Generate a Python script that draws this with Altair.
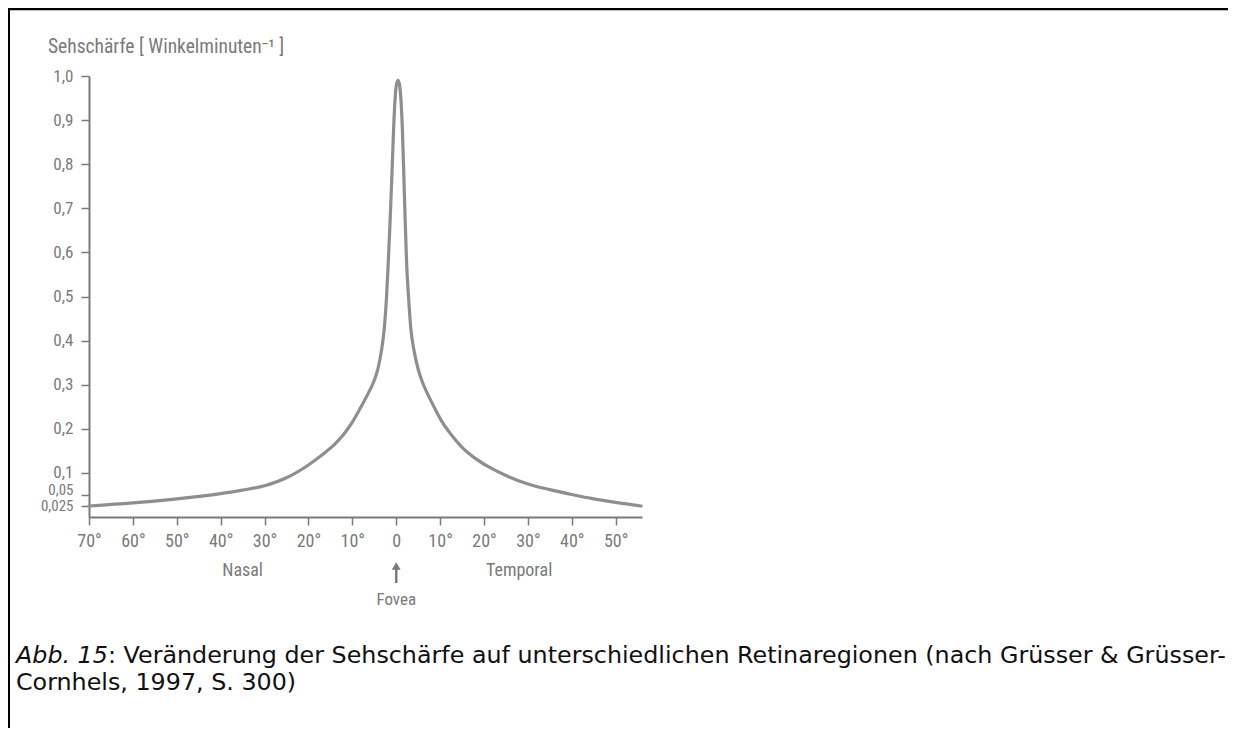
import altair as alt
import pandas as pd

# ---- data ----
angle = [-70, -60, -50, -40, -35, -30, -25, -20, -17, -14, -12, -10, -8, -6.5,
         -5.2, -4.2, -3.4, -2.7, -2.2, -1.8, -1.4, -1.0, -0.6, -0.25, 0.05, 0.4,
         0.75, 1.05, 1.4, 1.75, 2.05, 2.35, 2.8, 3.3, 4.1, 5.0, 6.0, 7.2, 8.6,
         10.5, 12.5, 15, 18, 21, 25, 30, 35, 40, 45, 50, 55.8]
acuity = [0.025, 0.032, 0.041, 0.053, 0.061, 0.071, 0.089, 0.118, 0.14, 0.165,
          0.187, 0.215, 0.25, 0.278, 0.305, 0.335, 0.375, 0.43, 0.5, 0.58, 0.67,
          0.77, 0.88, 0.95, 0.98, 0.99, 0.98, 0.95, 0.88, 0.77, 0.67, 0.58, 0.5,
          0.43, 0.375, 0.335, 0.305, 0.278, 0.25, 0.215, 0.187, 0.158, 0.133,
          0.114, 0.094, 0.075, 0.062, 0.051, 0.041, 0.033, 0.025]

y_ticks = [0.025, 0.05, 0.1, 0.2, 0.3, 0.4, 0.5, 0.6, 0.7, 0.8, 0.9, 1.0]
y_tick_labels = ["0,025", "0,05", "0,1", "0,2", "0,3", "0,4", "0,5", "0,6",
                 "0,7", "0,8", "0,9", "1,0"]
x_ticks = [-70, -60, -50, -40, -30, -20, -10, 0, 10, 20, 30, 40, 50]
x_tick_labels = ["70°", "60°", "50°", "40°", "30°", "20°", "10°", "0",
                 "10°", "20°", "30°", "40°", "50°"]
x_domain = [-70, 56]
y_domain = [0, 1]

y_title = "Sehschärfe [ Winkelminuten⁻¹ ]"
region_names = ["Nasal", "Temporal"]
region_angles = [-35, 28]
fovea_name = ["Fovea"]
fovea_angle = [0]
caption_italic = "Abb. 15"
caption_line1 = ": Veränderung der Sehschärfe auf unterschiedlichen Retinaregionen (nach Grüsser & Grüsser-"
caption_line2 = "Cornhels, 1997, S. 300)"

# ---- layout ----
W, H = 553, 441
PL, PT = 81, 68
SVG_W, SVG_H = 1225, 720
GRAY = "#7a7a7a"
CURVE = "#8e8e8e"
AXFONT = "Liberation Sans Narrow, Roboto Condensed, DejaVu Sans Condensed, sans-serif"
CAPFONT = "DejaVu Sans"
CAPSIZE = 23.8

def expr_map(values, labels):
    v = "[" + ",".join(repr(x) for x in values) + "]"
    l = "[" + ",".join("'" + s + "'" for s in labels) + "]"
    return f"{l}[indexof({v}, datum.value)]"

curve_df = pd.DataFrame({"angle": angle, "acuity": acuity})

xscale = alt.Scale(domain=x_domain, nice=False, zero=False)
yscale = alt.Scale(domain=y_domain, nice=False)

xaxis = alt.Axis(values=x_ticks, labelExpr=expr_map(x_ticks, x_tick_labels),
                 title=None, grid=False, domainColor=GRAY, domainWidth=2,
                 tickColor=GRAY, tickWidth=1.5, tickSize=8, labelPadding=7,
                 labelColor=GRAY, labelFont=AXFONT, labelFontSize=18,
                 labelOverlap=False, labelFlush=False)
yaxis = alt.Axis(values=y_ticks, labelExpr=expr_map(y_ticks, y_tick_labels),
                 title=None, grid=False, domainColor=GRAY, domainWidth=2,
                 tickColor=GRAY, tickWidth=1.5, tickSize=8, labelPadding=8,
                 labelColor=GRAY, labelFont=AXFONT,
                 labelFontSize={"condition": {"test": "datum.value < 0.06", "value": 15},
                                "value": 17},
                 labelOffset={"condition": {"test": "datum.value == 0.05", "value": -5.5},
                              "value": 0},
                 labelBaseline="middle",
                 labelOverlap=False, labelFlush=False)

curve = alt.Chart(curve_df).mark_line(
    color=CURVE, strokeWidth=3.2, interpolate="monotone",
    strokeCap="round", strokeJoin="round"
).encode(
    x=alt.X("angle:Q", scale=xscale, axis=xaxis),
    y=alt.Y("acuity:Q", scale=yscale, axis=yaxis),
)

title_df = pd.DataFrame({"t": [y_title]})
title = alt.Chart(title_df).mark_text(
    align="left", baseline="alphabetic", font=AXFONT, fontSize=19.5, color=GRAY
).encode(x=alt.value(-41), y=alt.value(-23), text="t:N")

region_df = pd.DataFrame({"angle": region_angles, "name": region_names})
regions = alt.Chart(region_df).mark_text(
    align="center", baseline="middle", font=AXFONT, fontSize=18, color=GRAY
).encode(x=alt.X("angle:Q", scale=xscale), y=alt.value(H + 54), text="name:N")

fovea_df = pd.DataFrame({"angle": fovea_angle, "name": fovea_name})
fovea = alt.Chart(fovea_df).mark_text(
    align="center", baseline="middle", font=AXFONT, fontSize=17, color=GRAY
).encode(x=alt.X("angle:Q", scale=xscale), y=alt.value(H + 83), text="name:N")
arrow_shaft = alt.Chart(fovea_df).mark_rule(color=GRAY, strokeWidth=2.5).encode(
    x=alt.X("angle:Q", scale=xscale), y=alt.value(H + 49), y2=alt.value(H + 66))
arrow_head = alt.Chart(fovea_df).mark_point(
    shape="triangle-up", filled=True, color=GRAY, size=80, opacity=1
).encode(x=alt.X("angle:Q", scale=xscale), y=alt.value(H + 49))

cap_df = pd.DataFrame({"a": [caption_italic], "b": [caption_line1], "c": [caption_line2]})
cap_i = alt.Chart(cap_df).mark_text(
    align="left", baseline="alphabetic", font=CAPFONT, fontSize=CAPSIZE,
    fontStyle="italic", color="#111111"
).encode(x=alt.value(-73), y=alt.value(587), text="a:N")
cap_1 = alt.Chart(cap_df).mark_text(
    align="left", baseline="alphabetic", font=CAPFONT, fontSize=CAPSIZE, color="#111111"
).encode(x=alt.value(-73 + 92), y=alt.value(587), text="b:N")
cap_2 = alt.Chart(cap_df).mark_text(
    align="left", baseline="alphabetic", font=CAPFONT, fontSize=CAPSIZE, color="#111111"
).encode(x=alt.value(-73), y=alt.value(614), text="c:N")

frame_top = alt.Chart(cap_df).mark_rule(color="#000000", strokeWidth=2.5).encode(
    x=alt.value(-PL), x2=alt.value(SVG_W - PL), y=alt.value(-PT + 1))
frame_left = alt.Chart(cap_df).mark_rule(color="#000000", strokeWidth=2).encode(
    x=alt.value(-PL + 1), y=alt.value(-PT), y2=alt.value(SVG_H - PT))

chart = alt.layer(
    frame_top, frame_left, curve, title, regions, fovea, arrow_shaft, arrow_head,
    cap_i, cap_1, cap_2
).properties(
    width=W, height=H,
    autosize=alt.AutoSizeParams(type="none"),
    padding={"left": PL, "top": PT, "right": SVG_W - PL - W - 5, "bottom": SVG_H - PT - H},
).configure(background="white").configure_view(strokeWidth=0)

chart.save("out.html", embed_options={"renderer": "svg", "actions": False})
